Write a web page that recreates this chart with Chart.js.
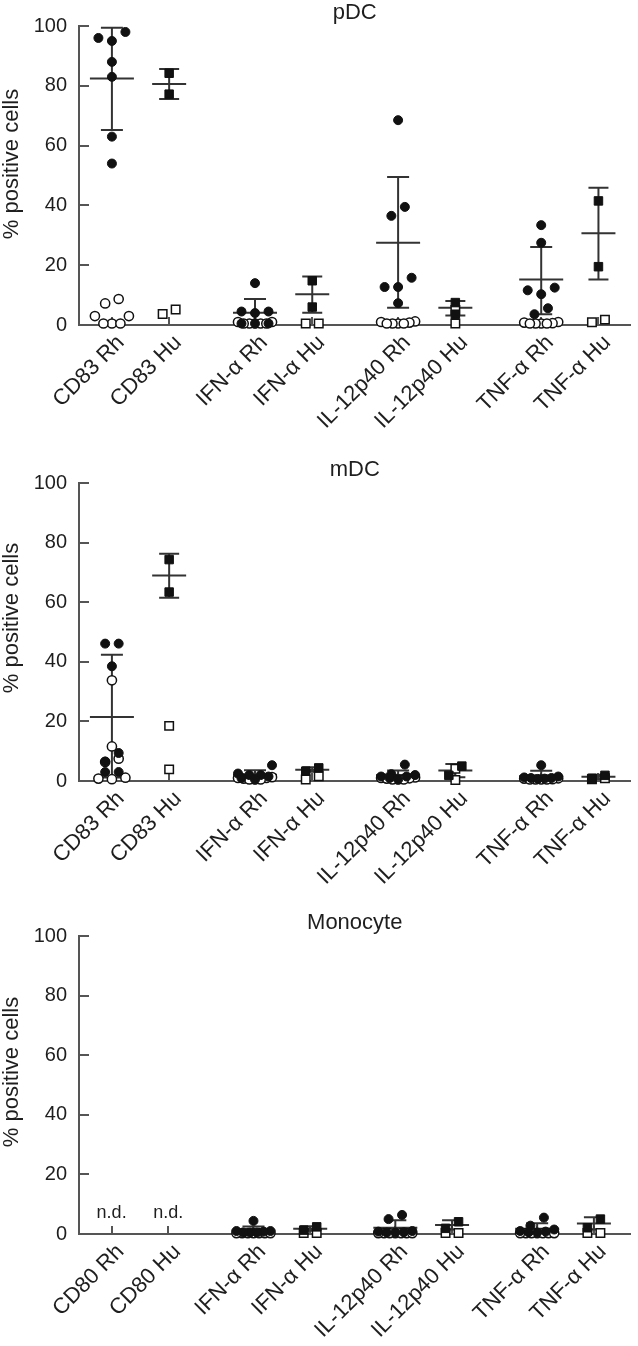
<!DOCTYPE html>
<html><head><meta charset="utf-8">
<script src="https://cdn.jsdelivr.net/npm/chart.js@4.4.1/dist/chart.umd.min.js"></script>
<style>
html,body{margin:0;padding:0;background:#fff;width:638px;height:1346px;overflow:hidden;}
.panel{position:absolute;left:0;width:638px;}
</style></head><body>
<div class="panel" style="top:0;height:450px"><canvas id="c1"></canvas></div>
<div class="panel" style="top:457px;height:450px"><canvas id="c2"></canvas></div>
<div class="panel" style="top:910px;height:436px"><canvas id="c3"></canvas></div>
<script>
// ---------- categories / tick labels ----------
const labelsDC   = ['CD83 Rh','CD83 Hu','IFN-α Rh','IFN-α Hu','IL-12p40 Rh','IL-12p40 Hu','TNF-α Rh','TNF-α Hu'];
const labelsMono = ['CD80 Rh','CD80 Hu','IFN-α Rh','IFN-α Hu','IL-12p40 Rh','IL-12p40 Hu','TNF-α Rh','TNF-α Hu'];
const yTickValues = [0, 20, 40, 60, 80, 100];
const yAxisTitle = '% positive cells';
const panelTitles = ['pDC', 'mDC', 'Monocyte'];
const ndMono = ['n.d.', 'n.d.', null, null, null, null, null, null];

// ---------- pDC ----------
const pdcStim = [
  [98, 96, 95, 88, 83, 63, 54], [84.2, 77.2],
  [14, 4.5, 4.5, 4, 0.5, 0.5, 0.5], [14.8, 6],
  [68.5, 39.5, 36.5, 15.8, 12.7, 12.7, 7.3], [7.5, 3.6],
  [33.4, 27.5, 12.5, 11.6, 10.3, 5.6, 3.6], [41.5, 19.5]
];
const pdcUnstim = [
  [8.7, 7.2, 3, 3, 0.5, 0.5, 0.5], [3.7, 5.2],
  [1, 1, 0.5, 0.5, 0.5, 0.5, 0.5], [0.5, 0.5],
  [1.2, 1, 0.8, 0.5, 0.5, 0.5, 0.5], [5, 0.5],
  [1, 0.8, 0.6, 0.5, 0.5, 0.5, 0.5], [0.9, 1.8]
];
const pdcMean = [82.4, 80.6, 4.1, 10.3, 27.5, 5.8, 15.2, 30.7];
const pdcLow  = [65.2, 75.6, -0.7, 4.1, 5.8, 3.2, 3.6, 15.2];
const pdcHigh = [99.4, 85.6, 8.7, 16.2, 49.5, 8.0, 26.1, 45.9];

// ---------- mDC ----------
const mdcStim = [
  [46.1, 46.1, 38.5, 9.4, 6.5, 3, 3], [74.3, 63.4],
  [5.3, 2.5, 2, 2, 1.5, 1, 0.5], [4.4, 3.3],
  [5.5, 2.3, 2, 1.5, 1.5, 1, 0.5], [5, 1.9],
  [5.3, 1.5, 1.2, 1, 1, 0.8, 0.7], [1.9, 0.9]
];
const mdcUnstim = [
  [33.8, 11.6, 7.5, 6.4, 1.1, 0.8, 0.6], [18.5, 3.9],
  [1.3, 1, 1, 0.8, 0.5, 0.5, 0.5], [1.6, 0.5],
  [1.2, 1, 0.9, 0.8, 0.5, 0.5, 0.5], [4.1, 0.3],
  [0.9, 0.8, 0.6, 0.5, 0.5, 0.5, 0.5], [0.9, 0.6]
];
const mdcMean = [21.5, 69.0, 2.1, 3.8, 2.0, 3.5, 1.7, 1.4];
const mdcLow  = [1.2, 61.5, 0.6, 3.1, 0.5, 1.3, 0.1, 0.7];
const mdcHigh = [42.4, 76.3, 3.6, 4.6, 3.5, 5.7, 3.4, 2.1];

// ---------- Monocyte ----------
const monoStim = [
  [], [],
  [4.4, 1, 1, 0.8, 0.5, 0.5, 0.5], [2.4, 1.3],
  [6.4, 5, 1, 0.8, 0.6, 0.5, 0.5], [4.1, 1.9],
  [5.5, 2.8, 1.5, 1, 0.8, 0.6, 0.5], [5, 2.1]
];
const monoUnstim = [
  [], [],
  [0.3, 0.3, 0.3, 0.3, 0.3, 0.3, 0.3], [0.3, 0.3],
  [0.3, 0.3, 0.3, 0.3, 0.3, 0.3, 0.3], [0.3, 0.3],
  [0.3, 0.3, 0.3, 0.3, 0.3, 0.3, 0.3], [0.3, 0.3]
];
const monoMean = [null, null, 1.2, 1.8, 2.1, 3.0, 1.8, 3.5];
const monoLow  = [null, null, 0, 1.1, 0, 1.5, 0, 1.5];
const monoHigh = [null, null, 2.5, 2.6, 4.6, 4.6, 3.6, 5.6];

// ---------- styling ----------
const FONT = "'Liberation Sans', Arial, Helvetica, sans-serif";
const TEXT = '#1e1e1e';
const AXIS = '#555555';
const BAR = '#333333';
const MARK = '#111111';

// category slot: pairs separated by a wider gap
function catPos(i) { return Math.floor(i / 2) * 5 + (i % 2) * 2; }

const decorPlugin = {
  id: 'decor',
  beforeDatasetsDraw(chart) {
    const o = chart.options.plugins.decor;
    const { ctx, chartArea: a } = chart;
    const xs = chart.scales.x, ys = chart.scales.y;
    ctx.save();
    ctx.strokeStyle = AXIS; ctx.lineWidth = 2; ctx.lineCap = 'butt';
    ctx.beginPath();
    ys.ticks.forEach(t => { const py = Math.round(ys.getPixelForValue(t.value)); ctx.moveTo(a.left, py); ctx.lineTo(a.left + 10, py); });
    xs.ticks.forEach(t => { const px = Math.round(xs.getPixelForValue(t.value)); ctx.moveTo(px, a.bottom); ctx.lineTo(px, a.bottom - 8); });
    ctx.stroke();
    // mean +/- SD
    ctx.beginPath(); ctx.rect(a.left, a.top - 4, a.width + 8, a.height + 4); ctx.clip();
    ctx.strokeStyle = BAR; ctx.lineWidth = 2;
    o.mean.forEach((m, i) => {
      if (m === null || m === undefined) return;
      const cx = xs.getPixelForValue(catPos(i));
      const isRh = o.labels[i].endsWith('Rh');
      const mh = isRh ? 22 : 17, ch = isRh ? 11 : 10;
      const pm = ys.getPixelForValue(m), pl = ys.getPixelForValue(o.low[i]), ph = ys.getPixelForValue(o.high[i]);
      ctx.beginPath();
      ctx.moveTo(cx, pl); ctx.lineTo(cx, ph);
      ctx.moveTo(cx - ch, ph); ctx.lineTo(cx + ch, ph);
      ctx.moveTo(cx - ch, pl); ctx.lineTo(cx + ch, pl);
      ctx.moveTo(cx - mh, pm); ctx.lineTo(cx + mh, pm);
      ctx.stroke();
    });
    ctx.restore();
  },
  afterDraw(chart) {
    const o = chart.options.plugins.decor;
    const { ctx, chartArea: a } = chart;
    const xs = chart.scales.x;
    ctx.save();
    ctx.fillStyle = TEXT;
    // y-axis title
    ctx.save();
    ctx.font = '22px ' + FONT; ctx.textAlign = 'center'; ctx.textBaseline = 'middle';
    ctx.translate(12, a.top + o.titleOffset); ctx.rotate(-Math.PI / 2);
    ctx.fillText(o.yTitle, 0, 0);
    ctx.restore();
    if (o.nd) {
      ctx.font = '18px ' + FONT; ctx.textAlign = 'center'; ctx.textBaseline = 'middle';
      o.nd.forEach((t, i) => { if (t) ctx.fillText(t, xs.getPixelForValue(catPos(i)), a.bottom - 21); });
    }
    ctx.restore();
  }
};

function buildPanel(id, labels, stim, unstim, mean, low, high, title, nd, plotH, titleOffset, xMax, padRight) {
  const kinds = [
    { sp: 'Rh', src: stim,   style: 'circle', r: 4.5, bg: MARK,   bw: 1 },
    { sp: 'Hu', src: stim,   style: 'rect',   r: 6,   bg: MARK,   bw: 1 },
    { sp: 'Rh', src: unstim, style: 'circle', r: 4.6, bg: '#fff', bw: 1.5 },
    { sp: 'Hu', src: unstim, style: 'rect',   r: 6,   bg: '#fff', bw: 1.5 }
  ];
  const meta = [];
  const datasets = kinds.map(k => {
    const data = [], groups = [];
    labels.forEach((lab, i) => {
      if (!lab.endsWith(k.sp)) return;
      const vals = k.src[i] || [];
      groups.push({ cat: i, start: data.length, vals: vals });
      vals.forEach(v => data.push({ x: catPos(i), y: v }));
    });
    meta.push({ groups, circle: k.style === 'circle' });
    return {
      data, pointStyle: k.style, pointRadius: k.r, pointHoverRadius: k.r,
      pointBackgroundColor: k.bg, pointBorderColor: MARK, pointBorderWidth: k.bw,
      showLine: false, clip: false
    };
  });
  const canvas = document.getElementById(id);
  const H = canvas.parentNode.clientHeight;
  const chart = new Chart(canvas, {
    type: 'scatter',
    data: { datasets },
    plugins: [decorPlugin],
    options: {
      responsive: true, maintainAspectRatio: false, animation: false,
      layout: { padding: { left: 0, right: padRight, top: 0, bottom: 0 } },
      plugins: {
        legend: { display: false }, tooltip: { enabled: false },
        title: { display: true, text: title, fullSize: false, color: TEXT,
                 font: { family: FONT, size: 22, weight: 'normal', lineHeight: 26 / 22 },
                 padding: { top: 0, bottom: 0 } },
        decor: { labels, mean, low, high, nd, yTitle: yAxisTitle, titleOffset }
      },
      scales: {
        x: {
          type: 'linear', min: -1.15, max: xMax,
          grid: { display: false, drawTicks: false },
          border: { display: true, color: AXIS, width: 2 },
          afterBuildTicks: s => { s.ticks = labels.map((l, i) => ({ value: catPos(i) })); },
          afterFit: s => { s.height = H - 26 - plotH; },
          ticks: { autoSkip: false, minRotation: 45, maxRotation: 45, padding: 5, labelOffset: 9,
                   color: TEXT, font: { family: FONT, size: 22 },
                   callback: (v, i) => labels[i] }
        },
        y: {
          min: 0, max: 100,
          grid: { display: false, drawTicks: false },
          border: { display: true, color: AXIS, width: 2 },
          afterBuildTicks: s => { s.ticks = yTickValues.map(v => ({ value: v })); },
          afterFit: s => { s.width = 79; },
          ticks: { padding: 12, color: TEXT, font: { family: FONT, size: 20 } }
        }
      }
    }
  });
  // spread points of equal height sideways (dot-plot layout)
  const xs = chart.scales.x, ys = chart.scales.y;
  chart.data.datasets.forEach((ds, di) => {
    const m = meta[di];
    const spMax = m.circle ? 13.5 : 13, maxW = m.circle ? 34 : 20;
    m.groups.forEach(g => {
      const cx = xs.getPixelForValue(catPos(g.cat));
      const items = g.vals.map((v, j) => ({ v, j })).sort((a, b) => b.v - a.v);
      const rows = []; let cur = null;
      items.forEach(it => {
        const py = ys.getPixelForValue(it.v);
        if (cur && py - cur.py0 < 10) cur.items.push(it);
        else { cur = { py0: py, items: [it] }; rows.push(cur); }
      });
      rows.forEach(r => {
        const n = r.items.length;
        const s = n > 1 ? Math.min(spMax, maxW / (n - 1)) : 0;
        const slots = [];
        for (let k = 0; k < n; k++) slots.push(k - (n - 1) / 2);
        slots.sort((a, b) => Math.abs(a) - Math.abs(b) || a - b);
        const asc = r.items.slice().sort((a, b) => a.v - b.v);
        asc.forEach((it, q) => {
          ds.data[g.start + it.j].x = xs.getValueForPixel(cx + slots[q] * s);
        });
      });
    });
  });
  chart.update('none');
  return chart;
}

buildPanel('c1', labelsDC, pdcStim, pdcUnstim, pdcMean, pdcLow, pdcHigh, panelTitles[0], null, 299, 138, 18.12, 6);
buildPanel('c2', labelsDC, mdcStim, mdcUnstim, mdcMean, mdcLow, mdcHigh, panelTitles[1], null, 298, 135, 18.12, 6);
buildPanel('c3', labelsMono, monoStim, monoUnstim, monoMean, monoLow, monoHigh, panelTitles[2], ndMono, 298, 136, 18.29, 1);
</script>
</body></html>
